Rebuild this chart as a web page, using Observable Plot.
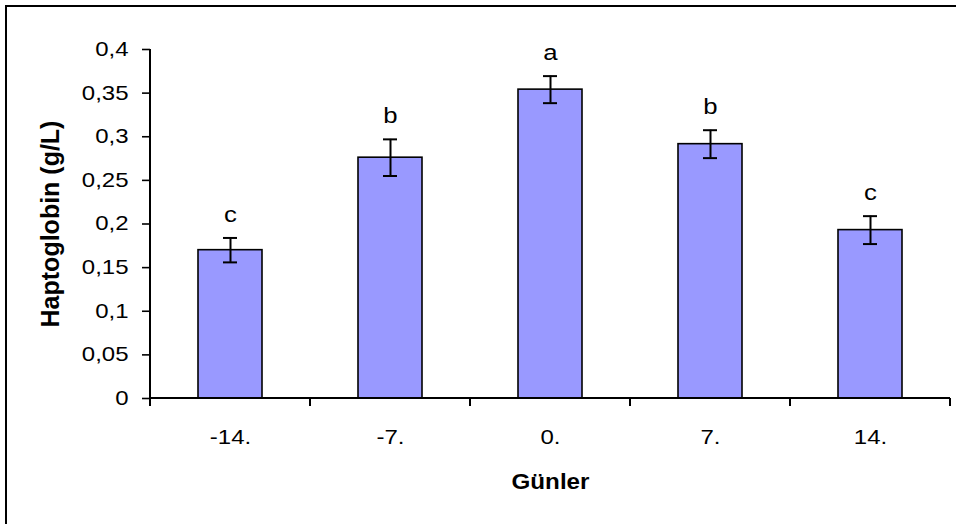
<!DOCTYPE html>
<html><head><meta charset="utf-8">
<script src="https://cdn.jsdelivr.net/npm/d3@7"></script>
<script src="https://cdn.jsdelivr.net/npm/@observablehq/plot@0.6"></script>
<style>
html,body{margin:0;padding:0;background:#fff;}
#wrap{position:relative;width:956px;height:524px;overflow:hidden;}
#border{position:absolute;left:5px;top:5px;width:1200px;height:800px;border-left:2px solid #000;border-top:2px solid #000;pointer-events:none;}
#chart{position:absolute;left:0;top:0;}
</style></head><body>
<div id="wrap"><div id="chart"></div><div id="border"></div></div>
<script>
// Data
const days = ["-14.", "-7.", "0.", "7.", "14."];
const haptoglobin = [0.170, 0.276, 0.354, 0.2915, 0.193];
const errors = [0.014, 0.021, 0.0155, 0.016, 0.016];
const letters = ["c", "b", "a", "b", "c"];
const yTicks = [0, 0.05, 0.1, 0.15, 0.2, 0.25, 0.3, 0.35, 0.4];
const xTitle = "Günler";
const yTitle = "Haptoglobin (g/L)";

const data = days.map((d, i) => ({day: d, value: haptoglobin[i], err: errors[i], letter: letters[i]}));

// Category-boundary ticks and axis lines (Excel style), drawn from the scales
function axisLines(index, scales, values, dim) {
  const x = scales.x, y = scales.y;
  const step = x(days[1]) - x(days[0]);
  const bw = x.bandwidth ? x.bandwidth() : step * 0.4;
  const gap = (step - bw) / 2;
  const g = d3.create("svg:g").attr("stroke", "#000").attr("fill", "none");
  const y0 = y(0), yTop = y(yTicks[yTicks.length - 1]);
  const xs = days.map(d => x(d) - gap);
  xs.push(x(days[days.length - 1]) + bw + gap);
  const xl = xs[0], xr = xs[xs.length - 1];
  g.append("line").attr("x1", xl).attr("x2", xr).attr("y1", y0).attr("y2", y0).attr("stroke-width", 2);
  g.append("line").attr("x1", xl).attr("x2", xl).attr("y1", yTop).attr("y2", y0).attr("stroke-width", 2);
  for (const xv of xs) g.append("line").attr("x1", xv).attr("x2", xv).attr("y1", y0).attr("y2", y0 + 8).attr("stroke-width", 2);
  return g.node();
}

const plot = Plot.plot({
  width: 956, height: 524,
  marginLeft: 150, marginRight: 6, marginTop: 49, marginBottom: 126,
  style: {fontFamily: "'Liberation Sans', Arial, sans-serif", fontSize: "20px", color: "#000", background: "transparent"},
  x: {domain: days, paddingInner: 0.6, paddingOuter: 0.3, label: null},
  y: {domain: [0, 0.4], label: null},
  marks: [
    Plot.barY(data, {x: "day", y: "value", fill: "#9999ff", stroke: "#000", strokeWidth: 1.6}),
    Plot.ruleX(data, {x: "day", y1: d => d.value - d.err, y2: d => d.value + d.err, stroke: "#000", strokeWidth: 2}),
    Plot.tickY(data, {x: "day", y: d => d.value + d.err, insetLeft: 25, insetRight: 25, stroke: "#000", strokeWidth: 2}),
    Plot.tickY(data, {x: "day", y: d => d.value - d.err, insetLeft: 25, insetRight: 25, stroke: "#000", strokeWidth: 2}),
    Plot.text(data, {x: "day", y: d => d.value + d.err, text: "letter", dy: -16, lineAnchor: "bottom", fontSize: 23, fill: "#000"}),
    Plot.axisY({ticks: yTicks, tickSize: 8, tickPadding: 14, strokeWidth: 1.6, tickFormat: d => String(d).replace(".", ","), label: null, fontSize: 20}),
    Plot.axisX({tickSize: 0, tickPadding: 31, label: null, fontSize: 20}),
    axisLines,
    Plot.text([xTitle], {frameAnchor: "bottom", dy: 90, lineAnchor: "bottom", textAnchor: "middle", fontWeight: "bold", fontSize: 22, fill: "#000"}),
    Plot.text([yTitle], {frameAnchor: "left", rotate: -90, dx: -100, textAnchor: "middle", lineAnchor: "middle", fontWeight: "bold", fontSize: 25, fill: "#000"})
  ]
});

// Widen horizontal text to match the reference's horizontally stretched lettering
function stretchNode(t, s) {
  const tr = t.getAttribute("transform");
  if (tr) t.setAttribute("transform", tr + ` scale(${s},1)`);
  else {
    const xv = t.getAttribute("x") || 0, yv = t.getAttribute("y") || 0;
    t.removeAttribute("x"); t.removeAttribute("y");
    t.setAttribute("transform", `translate(${xv},${yv}) scale(${s},1)`);
  }
}
plot.querySelectorAll('g[aria-label="y-axis tick label"] text').forEach(t => stretchNode(t, 1.2));
plot.querySelectorAll('g[aria-label="x-axis tick label"] text').forEach(t => stretchNode(t, 1.2));
plot.querySelectorAll('text').forEach(t => {
  if (t.textContent === xTitle) stretchNode(t, 1.1);
  else if (letters.includes(t.textContent)) stretchNode(t, 1.12);
});

document.getElementById("chart").appendChild(plot);
</script>
</body></html>
